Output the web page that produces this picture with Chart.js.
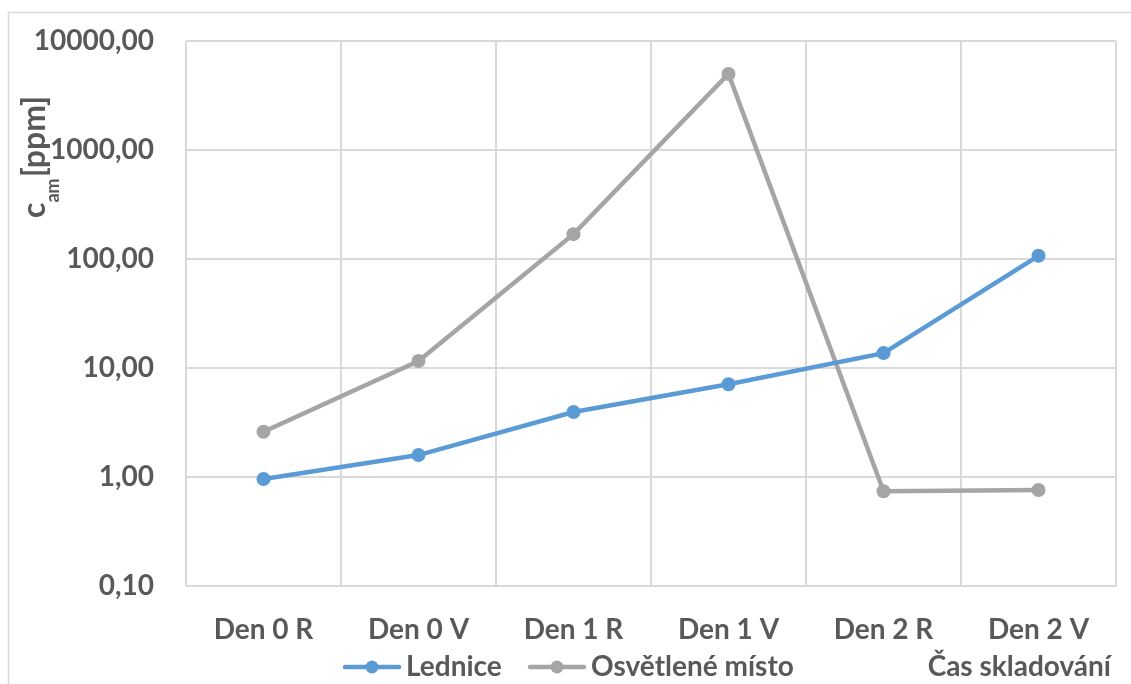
<!DOCTYPE html>
<html>
<head>
<meta charset="utf-8">
<script src="https://cdn.jsdelivr.net/npm/chart.js@4/dist/chart.umd.min.js"></script>
<style>
  html, body { margin: 0; padding: 0; background: #ffffff; }
  #wrap { width: 1131px; height: 684px; position: relative; }
</style>
</head>
<body>
<div id="wrap"><canvas id="c" width="1131" height="684"></canvas></div>
<script>
// Storage times (R = morning, V = evening)
const categories = ['Den 0 R', 'Den 0 V', 'Den 1 R', 'Den 1 V', 'Den 2 R', 'Den 2 V'];
// Ammonia concentration c_am [ppm]
const lednice = [0.96, 1.59, 3.95, 7.1, 13.7, 107];
const osvetleneMisto = [2.6, 11.6, 169, 4980, 0.74, 0.76];
const yTicks = [0.1, 1, 10, 100, 1000, 10000];
const seriesNames = ['Lednice', 'Osvětlené místo'];
const xTitle = 'Čas skladování';

const TEXT = '#595959';
const GRID = '#d9d9d9';
const FONT = 'Lato, "Open Sans", sans-serif';

// Frame, axis title with subscript, and the legend row
const decor = {
  id: 'decor',
  beforeDraw(chart) {
    const ctx = chart.ctx;
    ctx.save();
    ctx.strokeStyle = GRID;
    ctx.lineWidth = 1.5;
    ctx.strokeRect(8.5, 12.5, chart.width + 20, chart.height + 20);
    ctx.restore();
  },
  afterDraw(chart) {
    const ctx = chart.ctx;
    const area = chart.chartArea;

    // y axis title: c_am [ppm], rotated, reading bottom to top
    ctx.save();
    ctx.fillStyle = TEXT;
    ctx.translate(45, 218);
    ctx.rotate(-Math.PI / 2);
    ctx.textBaseline = 'alphabetic';
    ctx.textAlign = 'left';
    const big = 'bold 32px Lato';
    const small = 'bold 18px Lato';
    let x = 0;
    ctx.font = big;
    ctx.fillText('c', x, 0);
    x += ctx.measureText('c').width;
    ctx.font = small;
    ctx.fillText('am', x, 14);
    x += ctx.measureText('am').width + 1;
    ctx.font = big;
    ctx.fillText('[ppm]', x, 0);
    ctx.restore();

    // legend row
    ctx.save();
    const rowY = 667;
    ctx.font = 'bold 28px ' + FONT;
    ctx.textBaseline = 'middle';
    ctx.textAlign = 'left';
    const starts = [345, 530];
    chart.data.datasets.forEach((ds, i) => {
      const sx = starts[i];
      ctx.strokeStyle = ds.borderColor;
      ctx.lineWidth = 4.5;
      ctx.lineCap = 'round';
      ctx.beginPath();
      ctx.moveTo(sx, rowY);
      ctx.lineTo(sx + 54, rowY);
      ctx.stroke();
      ctx.fillStyle = ds.borderColor;
      ctx.beginPath();
      ctx.arc(sx + 27, rowY, 6.5, 0, Math.PI * 2);
      ctx.fill();
      ctx.fillStyle = TEXT;
      ctx.fillText(ds.label, sx + 61, rowY);
    });

    // x axis title, right side of the legend row
    ctx.textAlign = 'right';
    ctx.fillText(xTitle, area.right - 5, rowY);
    ctx.restore();
  }
};

const fmt = v => v.toFixed(2).replace('.', ',');

new Chart(document.getElementById('c'), {
  type: 'line',
  data: {
    labels: categories,
    datasets: [
      {
        label: seriesNames[0],
        data: lednice,
        borderColor: '#5b9bd5',
        backgroundColor: '#5b9bd5',
        borderWidth: 4.5,
        pointRadius: 7,
        pointHoverRadius: 7,
        pointBorderWidth: 0,
        tension: 0
      },
      {
        label: seriesNames[1],
        data: osvetleneMisto,
        borderColor: '#a5a5a5',
        backgroundColor: '#a5a5a5',
        borderWidth: 4.5,
        pointRadius: 7,
        pointHoverRadius: 7,
        pointBorderWidth: 0,
        tension: 0
      }
    ]
  },
  options: {
    responsive: false,
    animation: false,
    devicePixelRatio: 1,
    layout: { padding: { top: 41, right: 15, left: 0, bottom: 0 } },
    plugins: {
      legend: { display: false },
      tooltip: { enabled: false },
      title: { display: false }
    },
    scales: {
      x: {
        type: 'category',
        offset: true,
        grid: { color: GRID, lineWidth: 2, offset: true, drawTicks: false },
        border: { display: false },
        ticks: {
          color: TEXT,
          font: { family: FONT, size: 28, weight: 'bold' },
          padding: 27,
          maxRotation: 0
        },
        afterFit(s) { s.height = 98; s.paddingLeft = 0; s.paddingRight = 0; }
      },
      y: {
        type: 'logarithmic',
        min: 0.1,
        max: 10000,
        grid: { color: GRID, lineWidth: 2, drawTicks: false },
        border: { display: false },
        afterBuildTicks(s) { s.ticks = yTicks.map(v => ({ value: v })); },
        ticks: {
          color: TEXT,
          font: { family: FONT, size: 28, weight: 'bold' },
          padding: 32,
          callback: v => fmt(v)
        },
        afterFit(s) { s.width = 186; s.paddingTop = 0; s.paddingBottom = 0; }
      }
    }
  },
  plugins: [decor]
});
</script>
</body>
</html>
